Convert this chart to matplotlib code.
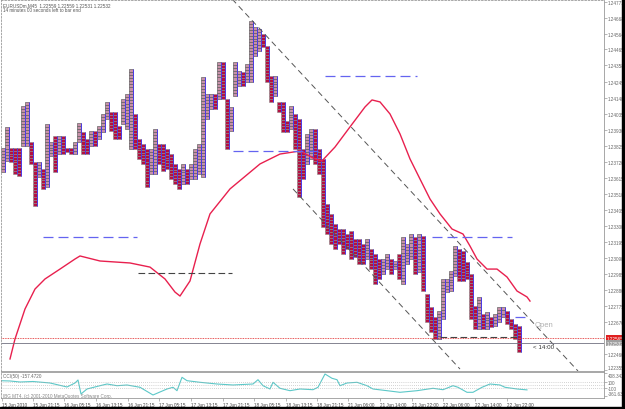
import matplotlib
matplotlib.use("Agg")
import matplotlib.pyplot as plt
from matplotlib.patches import Rectangle
from matplotlib.collections import PatchCollection

plt.rcParams['font.family'] = ['Liberation Sans', 'DejaVu Sans']

# point & figure style columns (high / low of each column)
col_high = [1.23813, 1.23951, 1.23813, 1.23813, 1.23813, 1.24089, 1.24115, 1.23852, 1.23721, 1.23721,
            1.23675, 1.23970, 1.23852, 1.23892, 1.23892, 1.23892, 1.23813, 1.23813, 1.23852, 1.23977,
            1.23918, 1.23872, 1.23924, 1.23924, 1.23957, 1.24036, 1.24115, 1.24049, 1.24049, 1.23957,
            1.24134, 1.24167, 1.24331, 1.24036, 1.23872, 1.23839, 1.23806, 1.23806, 1.23938, 1.23839,
            1.23839, 1.23806, 1.23773, 1.23708, 1.23675, 1.23708, 1.23675, 1.23708, 1.23806, 1.23839,
            1.24279, 1.24167, 1.24167, 1.24167, 1.24377, 1.24377, 1.24134, 1.24082, 1.24377, 1.24318,
            1.24312, 1.24364, 1.24647, 1.24607, 1.24594, 1.24561, 1.24482, 1.24286, 1.24286, 1.24115,
            1.24115, 1.23990, 1.24089, 1.24036, 1.24003, 1.23806, 1.23905, 1.23938, 1.23938, 1.23806,
            1.23741, 1.23445, 1.23380, 1.23314, 1.23281, 1.23281, 1.23248, 1.23268, 1.23215, 1.23215,
            1.23183, 1.23215, 1.23150, 1.23117, 1.23084, 1.23084, 1.23117, 1.23084, 1.23071, 1.23117,
            1.23229, 1.23183, 1.23248, 1.23229, 1.23248, 1.23235, 1.22854, 1.22769, 1.22703, 1.22743,
            1.22953, 1.22953, 1.23005, 1.23169, 1.23150, 1.23137, 1.23064, 1.22986, 1.22775, 1.22835,
            1.22723, 1.22736, 1.22703, 1.22723, 1.22769, 1.22769, 1.22743, 1.22690, 1.22657, 1.22644]
col_low = [1.23655, 1.23728, 1.23721, 1.23642, 1.23629, 1.23826, 1.23826, 1.23708, 1.23432, 1.23623,
           1.23544, 1.23557, 1.23760, 1.23655, 1.23773, 1.23773, 1.23787, 1.23773, 1.23773, 1.23852,
           1.23773, 1.23773, 1.23826, 1.23826, 1.23872, 1.23918, 1.24003, 1.23924, 1.23872, 1.23872,
           1.23970, 1.23938, 1.23806, 1.23806, 1.23741, 1.23708, 1.23557, 1.23642, 1.23642, 1.23708,
           1.23662, 1.23675, 1.23609, 1.23577, 1.23544, 1.23577, 1.23577, 1.23609, 1.23609, 1.23642,
           1.23623, 1.24003, 1.24069, 1.24069, 1.24134, 1.24134, 1.23806, 1.23924, 1.24154, 1.24220,
           1.24220, 1.24246, 1.24246, 1.24417, 1.24450, 1.24476, 1.24246, 1.24115, 1.24154, 1.24049,
           1.23918, 1.23918, 1.23938, 1.23806, 1.23491, 1.23609, 1.23708, 1.23741, 1.23708, 1.23642,
           1.23294, 1.23248, 1.23183, 1.23150, 1.23183, 1.23117, 1.23150, 1.23084, 1.23097, 1.23051,
           1.23051, 1.23084, 1.23018, 1.22920, 1.22953, 1.22986, 1.23018, 1.22986, 1.23018, 1.22953,
           1.22920, 1.23051, 1.23084, 1.22986, 1.22999, 1.22874, 1.22670, 1.22605, 1.22559, 1.22559,
           1.22690, 1.22867, 1.22874, 1.22972, 1.22940, 1.22940, 1.22953, 1.22690, 1.22625, 1.22625,
           1.22625, 1.22625, 1.22638, 1.22644, 1.22670, 1.22703, 1.22657, 1.22625, 1.22559, 1.22474]
box = 0.0002

# moving average
ma_x = [1.75, 3, 5.5, 8, 10.5, 14.25, 18, 19.25, 24.25, 31.75, 36.75, 40.5, 43, 44.25, 46.75,
        49.25, 51.75, 56.75, 64.25, 69.25, 74.25, 78, 79.75, 83, 86.75, 90.5, 92.25, 94.25, 96.75,
        99.25, 101.75, 104.25, 106.75, 109.25, 112.25, 115, 116.75, 118.5, 121, 123.5, 126, 128.5,
        131, 131.75]
ma_y = [1.22428, 1.22559, 1.22756, 1.22887, 1.22953, 1.23018, 1.23084, 1.23104, 1.23071, 1.23058,
        1.23031, 1.22953, 1.22867, 1.22841, 1.22940, 1.23183, 1.23380, 1.23544, 1.23708, 1.23773,
        1.23793, 1.23741, 1.23728, 1.23819, 1.23951, 1.24082, 1.24128, 1.24115, 1.24036, 1.23905,
        1.23741, 1.23609, 1.23478, 1.23380, 1.23281, 1.23248, 1.23169, 1.23084, 1.23018, 1.23018,
        1.22966, 1.22874, 1.22835, 1.22808]

# channel trendlines
trend_upper_x = [57.25, 143.75]
trend_upper_y = [1.24791, 1.22349]
trend_lower_x = [72.5, 114.25]
trend_lower_y = [1.23544, 1.22362]

# horizontal levels
blue_lv_price = [1.24286, 1.23793, 1.23229, 1.23229, 1.22703]
blue_lv_start = [80.5, 57.5, 10, 107.25, 128]
blue_lv_end = [103.5, 79.75, 33.5, 127.25, 131.75]
dark_lv_price = [1.22993, 1.22572]
dark_lv_start = [33.75, 109.25]
dark_lv_end = [57.25, 129.25]

ask = 1.22565
bid = 1.22532

price_ticks = [1.24771, 1.24668, 1.24564, 1.24465, 1.24358, 1.24245, 1.24140, 1.24035, 1.23930,
               1.23825, 1.23720, 1.23615, 1.23510, 1.23405, 1.23300, 1.23195, 1.23090, 1.22985,
               1.22880, 1.22775, 1.22670, 1.22460, 1.22355]

# CCI(50)
cci_x = [-0.75, 1.75, 4.25, 7.5, 11.75, 16, 18, 18.75, 19.5, 21, 24.25, 26, 28.5, 31, 34.25, 37.5,
         41, 42.5, 43.5, 44.75, 46, 49.25, 53.5, 57.5, 62.5, 63.75, 65, 66.75, 67.5, 69.25, 71.75,
         74.25, 77.5, 78.75, 80.5, 82.25, 83.5, 84.25, 86, 88.5, 91, 92.5, 96, 99.25, 103.5, 107.5,
         110, 112.5, 113.75, 116, 117.5, 119.75, 121.75, 124.25, 125.5, 128.5, 131]
cci_v = [151, 141, 107, 124, 74, -60, 74, 174, -295, -127, -17, 40, -17, 7, -70, -328, -127, -70,
         -184, 264, 151, 97, 40, 7, 40, 184, -17, -127, 97, -104, -184, -127, -151, -70, 375, 231,
         184, -17, 74, 97, -17, -127, -184, -238, -184, -104, -151, -17, -70, -238, -238, -70, 40,
         7, -70, -127, -157]
cci_levels = [100, 0, -100]
cci_labels = [100, -100]
cci_max, cci_min = 408.342, -361.633

date_labels = ["15 Jun 2010", "15 Jun 21:15", "16 Jun 05:15", "16 Jun 13:15", "16 Jun 21:15",
               "17 Jun 05:15", "17 Jun 13:15", "17 Jun 21:15", "18 Jun 05:15", "18 Jun 13:15",
               "18 Jun 21:15", "21 Jun 06:00", "21 Jun 14:00", "21 Jun 22:00", "22 Jun 06:00",
               "22 Jun 14:00", "22 Jun 22:00"]
date_pos = [-0.25, 7.5, 15.25, 23.25, 31.25, 39, 47, 55, 62.75, 70.75, 78.5, 86.25, 94.25,
            102.25, 110, 118, 126]

fs = 3.3
grey = '#999999'

fig = plt.figure(figsize=(6.25, 4.1), dpi=100)
ax = fig.add_axes([1 / 625, 38 / 410, 603 / 625, 371 / 410])
ax2 = fig.add_axes([1 / 625, 11.5 / 410, 603 / 625, 25.5 / 410])

# columns of boxes
up_boxes, down_boxes = [], []
bx, blo, bhi = [], [], []
prev_mid = None
for i, (hi, lo) in enumerate(zip(col_high, col_low)):
    n = max(1, int(round((hi - lo) / box)))
    h = (hi - lo) / n
    mid = (hi + lo) / 2
    rising = prev_mid is None or mid > prev_mid
    prev_mid = mid
    for k in range(n):
        r = Rectangle((i - 0.45, lo + k * h), 0.9, h)
        (up_boxes if rising else down_boxes).append(r)
    bx.append(i + 0.45)
    blo.append(lo)
    bhi.append(hi)

ax.add_collection(PatchCollection(up_boxes, facecolor='#c890a8', edgecolor='#5a5a5a', linewidth=0.45))
ax.add_collection(PatchCollection(down_boxes, facecolor='#b41040', edgecolor='#8a8a8a', linewidth=0.4))
ax.vlines(bx, blo, bhi, color='#4a3ae8', lw=0.7)

ax.plot(ma_x, ma_y, color='#e8204e', lw=1.0)

ax.plot(trend_upper_x, trend_upper_y, color='#555555', lw=0.7, ls=(0, (6, 4)))
ax.plot(trend_lower_x, trend_lower_y, color='#555555', lw=0.7, ls=(0, (6, 4)))

ax.hlines(blue_lv_price, blue_lv_start, blue_lv_end, color='#6464f0', lw=0.9, linestyles=[(0, (8, 4))])
ax.hlines(dark_lv_price, dark_lv_start, dark_lv_end, color='#444444', lw=0.8, linestyles=[(0, (6, 3))])

ax.axhline(bid, color='#707080', lw=0.6)
ax.axhline(ask, color='#e02020', lw=0.6, ls=(0, (1, 1)))

ax.text(133, 1.22651, "Open", fontsize=5.5, color='#b0b0b0', va='center')
ax.text(132.5, 1.22513, "< 14:00", fontsize=4.5, color='#333333', va='center')

ax.set_xlim(-0.5, 150.25)
ax.set_ylim(1.22349, 1.24784)
ax.set_xticks([])
ax.set_yticks(price_ticks)
ax.set_yticklabels([f"{v:.5f}" for v in price_ticks])
ax.yaxis.tick_right()
ax.tick_params(axis='y', length=2, width=0.5, color=grey, labelsize=fs, labelcolor='#666666', pad=1)
ax.get_yticklabels()[-1].set_va('bottom')

ytr = ax.get_yaxis_transform()
ax.text(1.004, ask, f"{ask:.5f}", transform=ytr, fontsize=fs, color='white', va='center', ha='left',
        bbox=dict(fc='#e02020', ec='none', pad=0.4), clip_on=False)
ax.text(1.004, bid, f"{bid:.5f}", transform=ytr, fontsize=fs, color='white', va='center', ha='left',
        bbox=dict(fc='#a0a0a0', ec='none', pad=0.4), clip_on=False)

for side in ['top', 'left']:
    ax.spines[side].set_linestyle((0, (2, 2)))
for sp in ax.spines.values():
    sp.set_color(grey)
    sp.set_linewidth(0.6)

# CCI panel
ax2.plot(cci_x, cci_v, color='#5cc8c8', lw=0.8)
ax2.hlines(cci_levels, -0.5, 150.25, color='#aaaaaa', lw=0.5, linestyles=[(0, (1, 2))])
ax2.set_xlim(-0.5, 150.25)
ax2.set_ylim(-411.9, 441.8)
ax2.set_yticks([cci_max] + cci_labels + [cci_min])
ax2.set_yticklabels([f"{cci_max:.3f}"] + [str(v) for v in cci_labels] + [f"{cci_min:.3f}"])
ax2.yaxis.tick_right()
ax2.tick_params(axis='y', length=2, width=0.5, color=grey, labelsize=fs, labelcolor='#666666', pad=1)
ax2.get_yticklabels()[0].set_va('top')
ax2.get_yticklabels()[-1].set_va('bottom')
ax2.set_xticks(date_pos)
ax2.set_xticklabels(date_labels)
ax2.tick_params(axis='x', length=2, width=0.5, color=grey, labelsize=fs, labelcolor='#444444', pad=1.5)
for lab in ax2.get_xticklabels():
    lab.set_ha('left')
for sp in ax2.spines.values():
    sp.set_color(grey)
    sp.set_linewidth(0.6)
ax2.spines['left'].set_linestyle((0, (2, 2)))

ax2.text(0.004, 0.86, "CCI(50) -157.4720", transform=ax2.transAxes, fontsize=fs, color='#666666', va='center')
ax2.text(0.004, 0.08, "IBG MT4, (c) 2001-2010 MetaQuotes Software Corp.", transform=ax2.transAxes,
         fontsize=fs, color='#888888', va='center')

fig.text(3 / 625, 1 - 5.5 / 410, "EURUSDm,M45  1.22559 1.22559 1.22531 1.22532", fontsize=fs,
         color='#555555', va='center')
fig.text(3 / 625, 1 - 10.5 / 410, "14 minutes 00 seconds left to bar end", fontsize=fs,
         color='#555555', va='center')

fig.patches.append(Rectangle((622 / 625, 0), 3 / 625, 1, transform=fig.transFigure, color='black'))
fig.patches.append(Rectangle((0, 0), 1, 2 / 410, transform=fig.transFigure, color='black'))

fig.savefig('out.png', dpi=100)
